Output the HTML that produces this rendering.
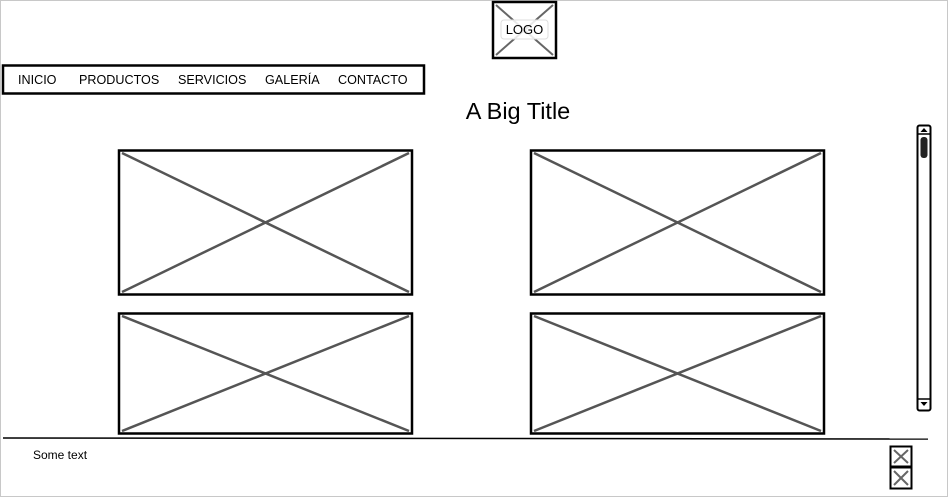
<!DOCTYPE html>
<html><head><meta charset="utf-8"><style>
html,body{margin:0;padding:0;background:#fff;}
svg{display:block;font-family:"Liberation Sans",sans-serif;}
</style></head><body>
<svg width="948" height="497" viewBox="0 0 948 497">
<rect x="0.5" y="0.5" width="947" height="496" fill="#fff" stroke="#c8c8c8"/>
<g>
<rect x="493" y="2" width="63" height="56" fill="#fff" stroke="#000" stroke-width="2.5"/>
<line x1="496" y1="5" x2="553" y2="55" stroke="#666" stroke-width="2"/>
<line x1="553" y1="5" x2="496" y2="55" stroke="#666" stroke-width="2"/>
<rect x="501" y="20" width="47" height="19" rx="3" fill="#fff" fill-opacity="0.85" stroke="#ddd"/>
<text x="524.5" y="34" font-size="13" text-anchor="middle" fill="#000">LOGO</text>
</g>
<g>
<rect x="3" y="65.5" width="421" height="28" fill="#fff" stroke="#000" stroke-width="2.5"/>
<text x="18" y="84" font-size="12.6">INICIO</text>
<text x="79" y="84" font-size="12.6">PRODUCTOS</text>
<text x="178" y="84" font-size="12.6">SERVICIOS</text>
<text x="265" y="84" font-size="12.6">GALERÍA</text>
<text x="338" y="84" font-size="12.6">CONTACTO</text>
</g>
<text x="518" y="119" font-size="23.5" text-anchor="middle">A Big Title</text>
<g>
<rect x="119" y="150.5" width="293" height="144" fill="#fff" stroke="#000" stroke-width="2.5"/>
<line x1="122" y1="153" x2="409" y2="292" stroke="#555" stroke-width="2.5"/><line x1="409" y1="153" x2="122" y2="292" stroke="#555" stroke-width="2.5"/>
</g>
<g>
<rect x="531" y="150.5" width="293" height="144" fill="#fff" stroke="#000" stroke-width="2.5"/>
<line x1="534" y1="153" x2="821" y2="292" stroke="#555" stroke-width="2.5"/><line x1="821" y1="153" x2="534" y2="292" stroke="#555" stroke-width="2.5"/>
</g>
<g>
<rect x="119" y="313.5" width="293" height="120" fill="#fff" stroke="#000" stroke-width="2.5"/>
<line x1="122" y1="316" x2="409" y2="431" stroke="#555" stroke-width="2.5"/><line x1="409" y1="316" x2="122" y2="431" stroke="#555" stroke-width="2.5"/>
</g>
<g>
<rect x="531" y="313.5" width="293" height="120" fill="#fff" stroke="#000" stroke-width="2.5"/>
<line x1="534" y1="316" x2="821" y2="431" stroke="#555" stroke-width="2.5"/><line x1="821" y1="316" x2="534" y2="431" stroke="#555" stroke-width="2.5"/>
</g>
<g>
<rect x="917.5" y="125.5" width="13" height="285" rx="2" fill="#fff" stroke="#000" stroke-width="2"/>
<line x1="918" y1="134" x2="930" y2="134" stroke="#000" stroke-width="1.5"/>
<line x1="918" y1="399" x2="930" y2="399" stroke="#000" stroke-width="1.5"/>
<polygon points="920.5,132 927.5,132 924,128" fill="#000"/>
<polygon points="920.5,402 927.5,402 924,406" fill="#000"/>
<rect x="920.5" y="137" width="7" height="21" rx="3" fill="#222"/>
</g>
<line x1="3" y1="438" x2="928" y2="439" stroke="#000" stroke-width="1.5"/>
<text x="33" y="459" font-size="12">Some text</text>
<g>
<rect x="890.5" y="446.5" width="21" height="20" fill="#fff" stroke="#000" stroke-width="2"/>
<line x1="894" y1="450" x2="908" y2="463" stroke="#666" stroke-width="2"/><line x1="908" y1="450" x2="894" y2="463" stroke="#666" stroke-width="2"/>
</g>
<g>
<rect x="890.5" y="467.5" width="21" height="21" fill="#fff" stroke="#000" stroke-width="2"/>
<line x1="894" y1="471" x2="908" y2="485" stroke="#666" stroke-width="2"/><line x1="908" y1="471" x2="894" y2="485" stroke="#666" stroke-width="2"/>
</g>
</svg>
</body></html>
